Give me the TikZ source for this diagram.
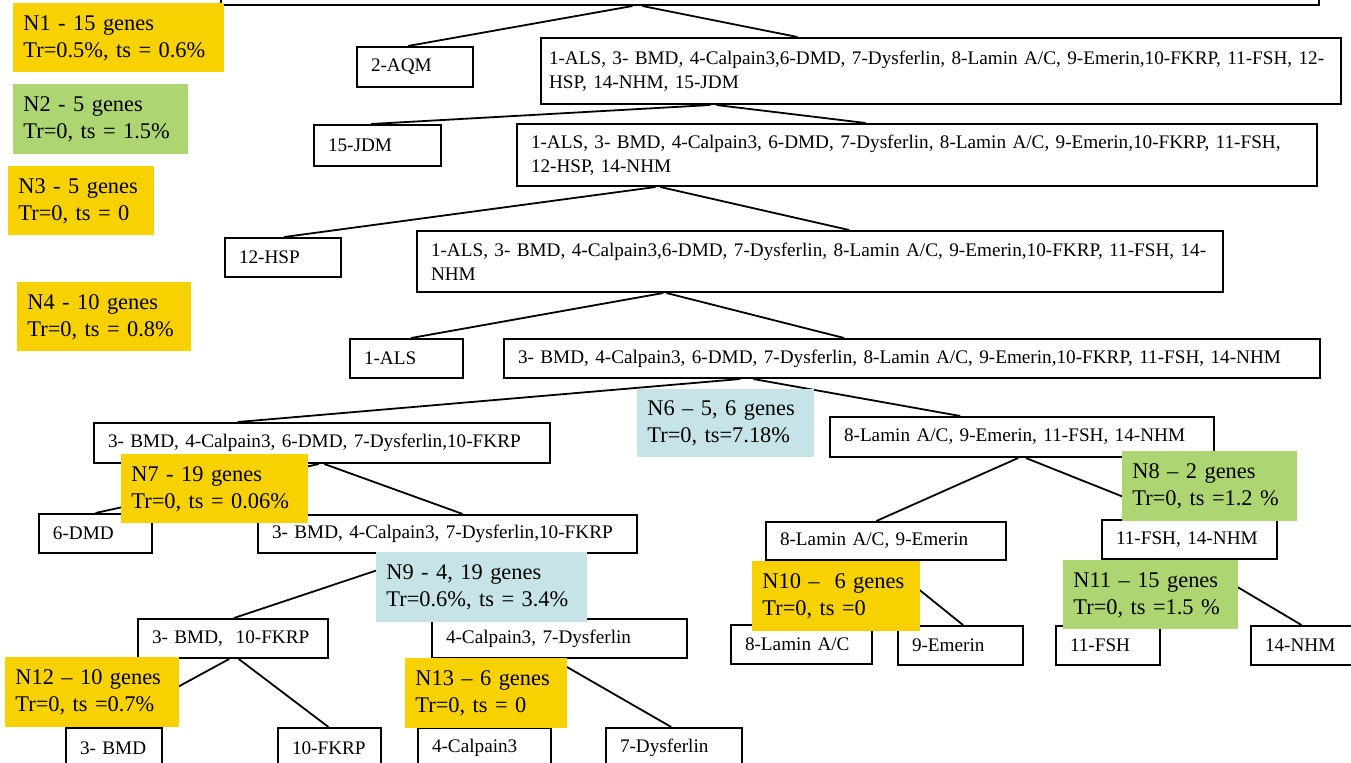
\documentclass[tikz,border=0pt]{standalone}
\usepackage{fontspec}
\setmainfont{Liberation Serif}
\usepackage{tikz}
\usetikzlibrary{calc}
\definecolor{keyyellow}{HTML}{F8D200}
\definecolor{keygreen} {HTML}{ADD572}
\definecolor{keyblue}  {HTML}{C6E3E7}
\exhyphenpenalty=10000
\hyphenpenalty=10000
\tikzset{
  % --- boxes
  gbox/.style = {draw=black, fill=white, line width=1pt, anchor=north west, align=left,
                 inner xsep=7pt, inner ysep=0pt, font=\fontsize{9.6}{12}\selectfont},
  key/.style  = {anchor=north west, align=left, inner xsep=5pt, inner ysep=0pt,
                 font=\fontsize{11.2}{13.5}\selectfont},
  keyy/.style = {key, fill=keyyellow},
  keyg/.style = {key, fill=keygreen},
  keyb/.style = {key, fill=keyblue},
  % --- edges
  e/.style    = {draw=black, line width=0.9pt},
}
\begin{document}
\begin{tikzpicture}[x=0.5pt,y=-0.5pt]
  \useasboundingbox (0,0) rectangle (1351,762);

  % the tree
  \node[gbox, text width=535pt, minimum height=32pt] (root) at (220,-60) {};
  \node[gbox, text width=44pt, minimum height=20pt] (aqm) at (356,46) {2-AQM};
  \node[gbox, inner xsep=4pt, text width=392pt, minimum height=33pt] (s1) at (540,37)
    {1-ALS, 3- BMD, 4-Calpain3,6-DMD, 7-Dysferlin, 8-Lamin A/C, 9-Emerin,10-FKRP, 11-FSH, 12-\\
     HSP, 14-NHM, 15-JDM};
  \node[gbox, text width=49.5pt, minimum height=20.5pt] (jdm) at (313,124) {15-JDM};
  \node[gbox, text width=386pt, minimum height=31pt] (s2) at (516,123)
    {1-ALS, 3- BMD, 4-Calpain3, 6-DMD, 7-Dysferlin, 8-Lamin A/C, 9-Emerin,10-FKRP, 11-FSH,\\
     12-HSP, 14-NHM};
  \node[gbox, text width=44pt, minimum height=19.5pt] (hsp) at (224,237) {12-HSP};
  \node[gbox, text width=389pt, minimum height=30.5pt] (s3) at (416,230)
    {1-ALS, 3- BMD, 4-Calpain3,6-DMD, 7-Dysferlin, 8-Lamin A/C, 9-Emerin,10-FKRP, 11-FSH, 14-\\
     NHM};
  \node[gbox, text width=42.5pt, minimum height=19.5pt] (als) at (349,338) {1-ALS};
  \node[gbox, text width=394pt, minimum height=19.5pt] (s4) at (503,338)
    {3- BMD, 4-Calpain3, 6-DMD, 7-Dysferlin, 8-Lamin A/C, 9-Emerin,10-FKRP, 11-FSH, 14-NHM};
  \node[gbox, text width=214pt, minimum height=20pt] (s5) at (93,422)
    {3- BMD, 4-Calpain3, 6-DMD, 7-Dysferlin,10-FKRP};
  \node[gbox, text width=178pt, minimum height=20pt] (s6) at (829,416)
    {8-Lamin A/C, 9-Emerin, 11-FSH, 14-NHM};
  \node[gbox, text width=42.5pt, minimum height=19.5pt] (dmd) at (38,513) {6-DMD};
  \node[gbox, text width=175.5pt, minimum height=19pt] (s7) at (257,514)
    {3- BMD, 4-Calpain3, 7-Dysferlin,10-FKRP};
  \node[gbox, text width=81pt, minimum height=19.5pt] (s8) at (137,618) {3- BMD,\ \ 10-FKRP};
  \node[gbox, text width=113.5pt, minimum height=19.5pt] (s9) at (431,618) {4-Calpain3, 7-Dysferlin};
  \node[gbox, text width=34pt, minimum height=20pt] (bmd) at (65,727) {3- BMD};
  \node[gbox, text width=37.5pt, minimum height=20pt] (fkrp) at (277,727) {10-FKRP};
  \node[gbox, text width=52.5pt, minimum height=20pt] (calp) at (417,727) {4-Calpain3};
  \node[gbox, text width=54pt, minimum height=20pt] (dysf) at (605,727) {7-Dysferlin};
  \node[gbox, text width=106pt, minimum height=19pt] (s10) at (765,521) {8-Lamin A/C, 9-Emerin};
  \node[gbox, text width=73.5pt, minimum height=19.5pt] (s11) at (1101,519) {11-FSH, 14-NHM};
  \node[gbox, text width=56.5pt, minimum height=19.5pt] (lamin) at (730,624) {8-Lamin A/C};
  \node[gbox, text width=48.5pt, minimum height=19.5pt] (emerin) at (897,625) {9-Emerin};
  \node[gbox, text width=38pt, minimum height=19.5pt] (fsh) at (1055,625) {11-FSH};
  \node[gbox, text width=43.5pt, minimum height=19.5pt] (nhm) at (1250,625) {14-NHM};

  % branches
  \draw[e] ($(root.south west)!.375!(root.south east)$) -- ($(aqm.north west)!.44!(aqm.north east)$);
  \draw[e] ($(root.south west)!.384!(root.south east)$) -- ($(s1.north west)!.321!(s1.north east)$);
  \draw[e] ($(s1.south west)!.2125!(s1.south east)$) -- ($(jdm.north west)!.45!(jdm.north east)$);
  \draw[e] ($(s1.south west)!.22!(s1.south east)$) -- ($(s2.north west)!.436!(s2.north east)$);
  \draw[e] ($(s2.south west)!.174!(s2.south east)$) -- ($(hsp.north west)!.51!(hsp.north east)$);
  \draw[e] ($(s2.south west)!.18!(s2.south east)$) -- ($(s3.north west)!.536!(s3.north east)$);
  \draw[e] ($(s3.south west)!.306!(s3.south east)$) -- ($(als.north west)!.54!(als.north east)$);
  \draw[e] ($(s3.south west)!.31!(s3.south east)$) -- ($(s4.north west)!.417!(s4.north east)$);
  \draw[e] ($(s4.south west)!.29!(s4.south east)$) -- ($(s5.north west)!.316!(s5.north east)$);
  \draw[e] ($(s4.south west)!.306!(s4.south east)$) -- ($(s6.north west)!.34!(s6.north east)$);
  \draw[e] ($(s5.south west)!.493!(s5.south east)$) -- (dmd.north);
  \draw[e] ($(s5.south west)!.505!(s5.south east)$) -- ($(s7.north west)!.54!(s7.north east)$);
  \draw[e] ($(s7.south west)!.443!(s7.south east)$) -- ($(s8.north west)!.505!(s8.north east)$);
  \draw[e] ($(s7.south west)!.45!(s7.south east)$) -- ($(s9.north west)!.49!(s9.north east)$);
  \draw[e] ($(s8.south west)!.48!(s8.south east)$) -- ($(bmd.north west)!.4!(bmd.north east)$);
  \draw[e] ($(s8.south west)!.53!(s8.south east)$) -- ($(fkrp.north west)!.49!(fkrp.north east)$);
  \draw[e] ($(s9.south west)!.475!(s9.south east)$) -- (calp.north);
  \draw[e] ($(s9.south west)!.475!(s9.south east)$) -- ($(dysf.north west)!.48!(dysf.north east)$);
  \draw[e] ($(s6.south west)!.49!(s6.south east)$) -- ($(s10.north west)!.46!(s10.north east)$);
  \draw[e] ($(s6.south west)!.51!(s6.south east)$) -- ($(s11.north west)!.44!(s11.north east)$);
  \draw[e] ($(s10.south west)!.467!(s10.south east)$) -- (lamin.north);
  \draw[e] ($(s10.south west)!.49!(s10.south east)$) -- ($(emerin.north west)!.52!(emerin.north east)$);
  \draw[e] ($(s11.south west)!.514!(s11.south east)$) -- (fsh.north);
  \draw[e] ($(s11.south west)!.514!(s11.south east)$) -- ($(nhm.north west)!.44!(nhm.north east)$);

  % gene counts and rates
  \node[keyy, text width=95.5pt, minimum height=34.5pt] (n1) at (13,3) {N1 - 15 genes\\Tr=0.5\%, ts = 0.6\%};
  \node[keyg, text width=77.5pt, minimum height=35pt] (n2) at (13,84) {N2 - 5 genes\\Tr=0, ts = 1.5\%};
  \node[keyy, text width=63pt, minimum height=34.5pt] (n3) at (8,166) {N3 - 5 genes\\Tr=0, ts = 0};
  \node[keyy, text width=77pt, minimum height=34.5pt] (n4) at (17,282) {N4 - 10 genes\\Tr=0, ts = 0.8\%};
  \node[keyb, text width=78.5pt, minimum height=34pt] (n6) at (637,389) {N6 – 5, 6 genes\\Tr=0, ts=7.18\%};
  \node[keyy, text width=83.5pt, minimum height=34.5pt] (n7) at (121,454) {N7 - 19 genes\\Tr=0, ts = 0.06\%};
  \node[keyg, text width=77.5pt, minimum height=35pt] (n8) at (1122,451) {N8 – 2 genes\\Tr=0, ts =1.2 \%};
  \node[keyb, text width=95.5pt, minimum height=35pt] (n9) at (376,552) {N9 - 4, 19 genes\\Tr=0.6\%, ts = 3.4\%};
  \node[keyy, text width=74pt, minimum height=35pt] (n10) at (752,561) {N10 –\ \ 6 genes\\Tr=0, ts =0};
  \node[keyg, text width=77.5pt, minimum height=34.5pt] (n11) at (1063,560) {N11 – 15 genes\\Tr=0, ts =1.5 \%};
  \node[keyy, text width=77pt, minimum height=35pt] (n12) at (5,657) {N12 – 10 genes\\Tr=0, ts =0.7\%};
  \node[keyy, text width=71pt, minimum height=35pt] (n13) at (405,658) {N13 – 6 genes\\Tr=0, ts = 0};
\end{tikzpicture}
\end{document}
